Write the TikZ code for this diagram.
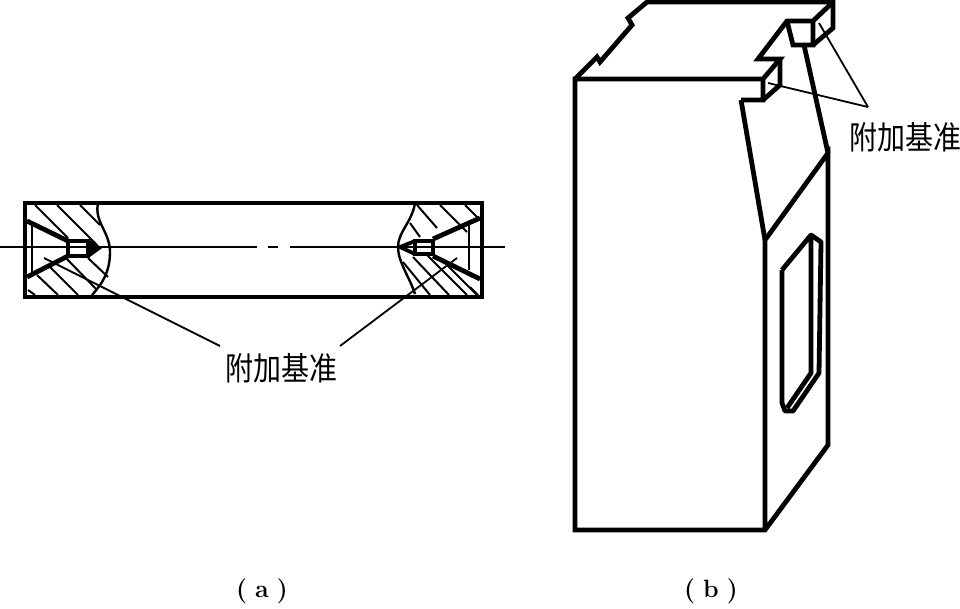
\documentclass[tikz,border=0pt]{standalone}
\usepackage{fontspec}
\newfontfamily\cjk{Noto Sans CJK SC}
\usetikzlibrary{calc,positioning}
\tikzset{
	contour/.style={line width=4.8pt, line join=miter},
	medium/.style={line width=2.4pt},
	hatchline/.style={line width=2pt},
	leader/.style={line width=1.8pt},
	noteword/.style={font=\cjk\fontsize{28}{30}\selectfont, inner sep=0pt, yscale=1.15},
	subcaption/.style={font=\rmfamily\bfseries\fontsize{25}{28}\selectfont, inner sep=0pt}
}

\begin{document}
\begin{tikzpicture}[x=1pt, y=-1pt]
	\useasboundingbox (0,0) rectangle (960,608);

	% Aanzicht (a): ring in doorsnede
	\draw[contour] (25,203) rectangle (482,297);

	% Arcering links
	\foreach \xa/\ya/\xb/\yb in {35/205/68/238, 57/205/97/245, 80/205/100/225,
		88/258/108/277, 65/257/97/290, 50/267/78/295, 37/275/58/295, 28/290/35/295}
		\draw[hatchline] (\xa,\ya) -- (\xb,\yb);
	% Arcering rechts
	\foreach \xa/\ya/\xb/\yb in {417/205/437/228, 440/205/467/232, 465/205/478/218, 410/223/420/237,
		403/262/430/295, 413/257/449/295, 427/255/467/295, 447/265/477/295, 470/287/478/295}
		\draw[hatchline] (\xa,\ya) -- (\xb,\yb);

	% Breuklijnen
	\draw[medium] (98,203) .. controls (94,222) and (110,232) .. (110,252) .. controls (110,272) and (102,284) .. (92,295);
	\draw[medium] (415,203) .. controls (412,222) and (398,232) .. (398,247) .. controls (398,262) and (410,278) .. (415,294);

	% Kegel en centreergat links
	\draw[contour] (27,221) -- (68,241) (27,277) -- (68,256);
	\draw[medium] (32,222) -- (32,276);
	\draw[line width=3.8pt] (68,241) rectangle (88,256);
	\draw[line width=3.8pt] (88,241) -- (99,248) -- (88,256);
	\fill (88,241) -- (99,248) -- (88,256) -- cycle;
	% Kegel en centreergat rechts
	\draw[contour] (480,218) -- (433,239) (480,279) -- (433,256);
	\draw[medium] (469,224) -- (469,270);
	\draw[line width=3.8pt] (415,241) rectangle (433,254);
	\draw[line width=3.8pt] (415,241) -- (400,247) -- (415,254);

	% Hartlijn
	\draw[medium] (0,247) -- (257,247);
	\draw[medium] (268,247) -- (278,247);
	\draw[medium] (290,247) -- (505,247);

	% Verwijzing (a)
	\node[noteword] (notea) at (281,368) {附加基准};
	\coordinate (targetal) at (44,258);
	\coordinate (targetar) at (457,258);
	\draw[leader] (targetal) -- (220,346);
	\draw[leader] (targetar) -- (340,346);

	% Aanzicht (b): blok
	\draw[contour] (763,79) -- (575,79) -- (575,530) -- (765,530) -- (828,445) -- (828,153) -- (765,240) -- (765,530);
	% Bovenvlak met inkepingen
	\draw[contour] (575,79) -- (597,57) -- (600,62) -- (632,25) -- (628,18) -- (647,2) -- (833,2) -- (833,28) -- (813,45);
	% Uitsparing
	\draw[contour] (741,100) -- (763,100) -- (763,79) -- (780,59) -- (758,59) -- (787,21) -- (813,21) -- (833,2);
	\draw[contour] (763,100) -- (780,85) -- (780,59);
	\draw[contour] (741,100) -- (765,240);
	% Klein blokje
	\draw[contour] (787,21) -- (793,45) -- (813,45) -- (813,21);
	\draw[contour] (804,45) -- (828,153);

	% Venster
	\draw[contour, line join=round] (782,270) -- (811,235) -- (811,373) -- (787,408);
	\draw[contour, line join=round] (782,270) -- (782,403) -- (785,411) -- (793,411) -- (819,373) -- (821,242) -- (811,235);

	% Verwijzing (b)
	\node[noteword] (noteb) at (905,137) {附加基准};
	\coordinate (tip) at (868,107);
	\draw[leader] (768,83) -- (tip);
	\draw[leader] (819,23) -- (tip);

	% Onderschriften
	\node[subcaption] (capa) at (262,591) {(\hspace{8pt}a\hspace{8pt})};
	\node[subcaption] (capb) at (711,591) {(\hspace{8pt}b\hspace{8pt})};
\end{tikzpicture}
\end{document}
